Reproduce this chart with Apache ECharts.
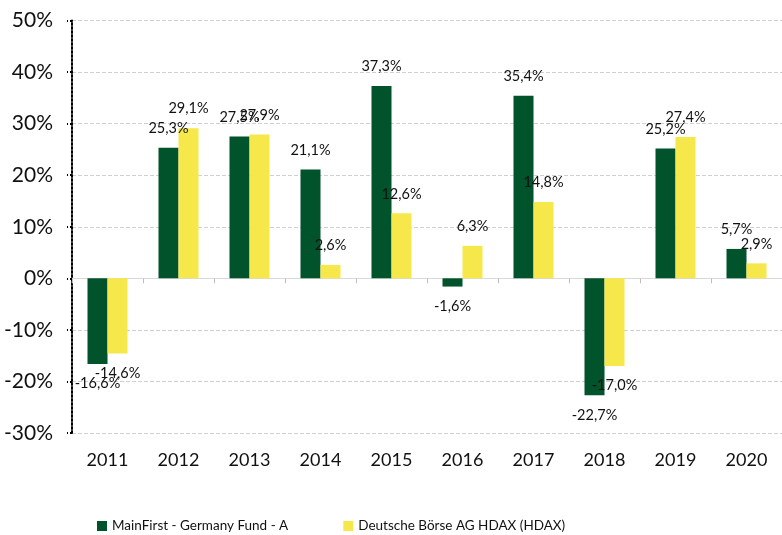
<!DOCTYPE html>
<html><head><meta charset="utf-8">
<script src="https://cdn.jsdelivr.net/npm/echarts@6/dist/echarts.min.js"></script>
<style>html,body{margin:0;padding:0;background:#fff}#c{width:782px;height:535px}</style>
</head><body><div id="c"></div>
<script>
const years = ['2011','2012','2013','2014','2015','2016','2017','2018','2019','2020'];
const fundName = 'MainFirst - Germany Fund - A';
const indexName = 'Deutsche Börse AG HDAX (HDAX)';
const fundValues = [-16.6, 25.3, 27.5, 21.1, 37.3, -1.6, 35.4, -22.7, 25.2, 5.7];
const indexValues = [-14.6, 29.1, 27.9, 2.6, 12.6, 6.3, 14.8, -17.0, 27.4, 2.9];
const yTicks = [-30, -20, -10, 0, 10, 20, 30, 40, 50];

const FONT = 'Lato';
const fmt = v => v.toFixed(1).replace('.', ',') + '%';
function mk(vals) {
  return vals.map(v => ({ value: v, label: { position: v < 0 ? 'bottom' : 'top' } }));
}
const chart = echarts.init(document.getElementById('c'));
chart.setOption({
  animation: false,
  textStyle: { fontFamily: FONT },
  grid: { left: 72, right: -7, top: 20.5, bottom: 102 },
  legend: {
    bottom: -3, left: 92, itemWidth: 10, itemHeight: 10, itemGap: 55, icon: 'rect',
    textStyle: { fontFamily: FONT, fontSize: 13.5, color: '#111' },
    data: [fundName, indexName]
  },
  xAxis: [{
    type: 'category', data: years,
    axisLine: { onZero: true, lineStyle: { color: '#d9d9d9', width: 1 } },
    axisTick: { show: true, length: 5, lineStyle: { color: '#bfbfbf' } },
    axisLabel: { show: false }
  }, {
    type: 'category', data: years, position: 'bottom',
    axisLine: { show: false, onZero: false }, axisTick: { show: false },
    axisLabel: { margin: 18, fontSize: 18, color: '#111', fontFamily: FONT }
  }],
  yAxis: {
    type: 'value', min: yTicks[0], max: yTicks[yTicks.length - 1], interval: 10,
    axisLine: { show: true, lineStyle: { color: '#000', type: 'dotted', width: 2 } },
    axisTick: { show: true, length: 5, lineStyle: { color: '#000', type: 'dotted', width: 2 } },
    axisLabel: { fontSize: 21, color: '#111', margin: 19, fontFamily: FONT, formatter: v => v + '%' },
    splitLine: { lineStyle: { color: '#d0d0d0', type: 'dashed', width: 1 } }
  },
  series: [{
    name: fundName, type: 'bar', data: mk(fundValues), barWidth: 20, barGap: '0%',
    itemStyle: { color: '#00532a' },
    label: { show: true, distance: 12, fontSize: 14.5, color: '#111', fontFamily: FONT, formatter: p => fmt(p.value) }
  }, {
    name: indexName, type: 'bar', data: mk(indexValues), barWidth: 20,
    itemStyle: { color: '#f6e84a' },
    label: { show: true, distance: 12, fontSize: 14.5, color: '#111', fontFamily: FONT, formatter: p => fmt(p.value) }
  }]
});
</script></body></html>
